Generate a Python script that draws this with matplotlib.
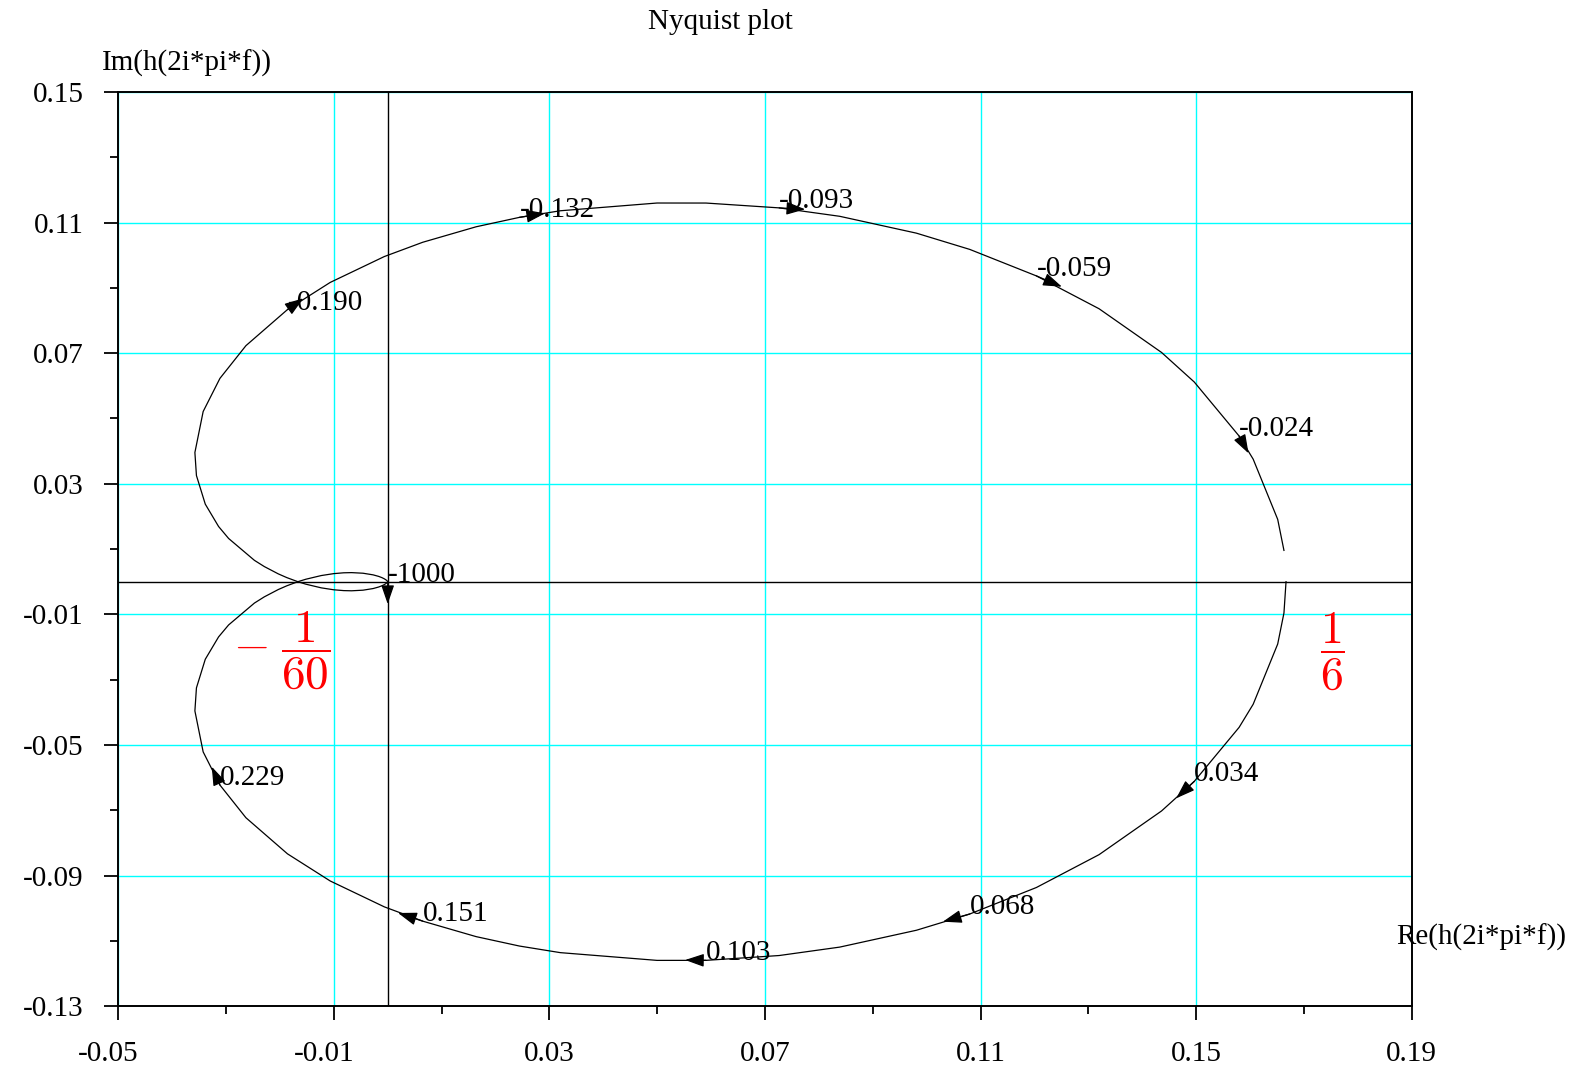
import matplotlib
matplotlib.use("Agg")
import matplotlib.pyplot as plt
from matplotlib.ticker import FixedLocator
from matplotlib.transforms import ScaledTranslation

plt.rcParams["font.family"] = ["Liberation Serif", "DejaVu Serif"]
plt.rcParams["mathtext.fontset"] = "cm"
plt.rcParams["axes.unicode_minus"] = False

# Nyquist curve, negative frequencies (f = -1000 ... -0.005), upper half
neg_re = [0.0, -0.000046, -0.000152, -0.000327, -0.000646, -0.001087, -0.001678,
          -0.002706, -0.004583, -0.006704, -0.008177, -0.010020, -0.012327,
          -0.015194, -0.016657, -0.018707, -0.020303, -0.022890, -0.024727,
          -0.029516, -0.031378, -0.033845, -0.035485, -0.035771, -0.034237,
          -0.031124, -0.026305, -0.018598, -0.010676, -0.000633, 0.006499,
          0.016401, 0.024431, 0.032024, 0.049974, 0.059051, 0.072630, 0.083863,
          0.098095, 0.107991, 0.120357, 0.131984, 0.143571, 0.149640, 0.157960,
          0.160570, 0.165120, 0.166280]
neg_im = [0.0, -0.000139, -0.000332, -0.000568, -0.000899, -0.001255, -0.001627,
          -0.002097, -0.002598, -0.002783, -0.002726, -0.002471, -0.001883,
          -0.000754, -0.000006, 0.001248, 0.002400, 0.004635, 0.006541,
          0.013241, 0.016908, 0.023755, 0.032517, 0.039573, 0.052120,
          0.062274, 0.072281, 0.083335, 0.091644, 0.099573, 0.103953,
          0.108692, 0.111574, 0.113598, 0.115970, 0.115962, 0.114482, 0.111902,
          0.106740, 0.101763, 0.093646, 0.083585, 0.070207, 0.061155, 0.044610,
          0.037532, 0.019089, 0.009587]

# positive frequencies (f = 0 ... 1000), lower half
pos_re = [0.166667, 0.166280, 0.165120, 0.160570, 0.157960, 0.149640, 0.143571,
          0.131984, 0.120357, 0.107991, 0.098095, 0.083863, 0.072630, 0.059051,
          0.049974, 0.032024, 0.024431, 0.016401, 0.006499, -0.000633,
          -0.010676, -0.018598, -0.026305, -0.031124, -0.034237, -0.035771,
          -0.035485, -0.033845, -0.031378, -0.029516, -0.024727, -0.022890,
          -0.020303, -0.018707, -0.016657, -0.015194, -0.012327, -0.010020,
          -0.008177, -0.006704, -0.004583, -0.002706, -0.001678, -0.001087,
          -0.000646, -0.000327, -0.000152, -0.000046, 0.0]
pos_im = [0.0, -0.009587, -0.019089, -0.037532, -0.044610, -0.061155, -0.070207,
          -0.083585, -0.093646, -0.101763, -0.106740, -0.111902, -0.114482, -0.115962,
          -0.115970, -0.113598, -0.111574, -0.108692, -0.103953, -0.099573,
          -0.091644, -0.083335, -0.072281, -0.062274, -0.052120, -0.039573,
          -0.032517, -0.023755, -0.016908, -0.013241, -0.006541, -0.004635,
          -0.002400, -0.001248, 0.000006, 0.000754, 0.001883, 0.002471,
          0.002726, 0.002783, 0.002598, 0.002097, 0.001627, 0.001255,
          0.000899, 0.000568, 0.000332, 0.000139, 0.0]

# frequency labels and arrow heads
freq_labels = ["-1000", "-0.190", "-0.132", "-0.093", "-0.059", "-0.024",
               "0.034", "0.068", "0.103", "0.151", "0.229"]
label_re = [0.0, -0.018598, 0.024431, 0.072630, 0.120357, 0.157960,
            0.149640, 0.107991, 0.059051, 0.006499, -0.031124]
label_im = [0.0, 0.083335, 0.111574, 0.114482, 0.093646, 0.044610,
            -0.061155, -0.101763, -0.115962, -0.103953, -0.062274]
arrow_re = [0.0, -0.01565, 0.02920, 0.07745, 0.12508, 0.15971,
            0.14629, 0.10300, 0.05518, 0.00192, -0.03265]
arrow_im = [-0.00683, 0.08679, 0.11282, 0.11405, 0.09034, 0.03932,
            -0.06633, -0.10412, -0.11585, -0.10145, -0.05665]

x_ticks = [-0.05, -0.01, 0.03, 0.07, 0.11, 0.15, 0.19]
x_minor = [-0.03, 0.01, 0.05, 0.09, 0.13, 0.17]
y_ticks = [0.15, 0.11, 0.07, 0.03, -0.01, -0.05, -0.09, -0.13]
y_minor = [0.13, 0.09, 0.05, 0.01, -0.03, -0.07, -0.11]

FS = 21

W, H = 1584, 1070
fig = plt.figure(figsize=(W / 100, H / 100), dpi=100)
ax = fig.add_axes([118.2 / W, 1 - 1006.2 / H, (1411.8 - 118.2) / W, (1006.2 - 91.9) / H])

ax.set_xlim(-0.05, 0.19)
ax.set_ylim(-0.13, 0.15)
ax.set_xticks(x_ticks)
ax.set_xticklabels([f"{v:.2f}" for v in x_ticks])
ax.set_yticks(y_ticks)
ax.set_yticklabels([f"{v:.2f}" for v in y_ticks])
ax.xaxis.set_minor_locator(FixedLocator(x_minor))
ax.yaxis.set_minor_locator(FixedLocator(y_minor))
ax.tick_params(which="major", direction="out", length=10, width=1.3,
               pad=15, labelsize=FS)
ax.tick_params(which="minor", direction="out", length=6, width=1.3)
for s in ax.spines.values():
    s.set_linewidth(1.4)

# negative x labels sit a little left of their tick in the original
shift = ScaledTranslation(-10 / 100, 0, fig.dpi_scale_trans)
for v, lab in zip(x_ticks, ax.get_xticklabels()):
    if v < 0:
        lab.set_transform(lab.get_transform() + shift)

ax.grid(True, which="major", color="#00ffff", lw=1.0)
ax.set_axisbelow(True)

ax.axhline(0, color="k", lw=1.0, zorder=1.5)
ax.axvline(0, color="k", lw=1.0, zorder=1.5)

ax.plot(neg_re, neg_im, color="k", lw=0.9)
ax.plot(pos_re, pos_im, color="k", lw=0.9)

for t, x, y, ax_, ay_ in zip(freq_labels, label_re, label_im, arrow_re, arrow_im):
    ax.text(x, y, t, fontsize=FS, ha="left", va="baseline")
    ax.annotate("", xy=(ax_, ay_), xytext=(x, y),
                arrowprops=dict(arrowstyle="-|>,head_length=0.58,head_width=0.2",
                                mutation_scale=20, color="k", lw=0.9,
                                shrinkA=0, shrinkB=0))

ax.text(-0.0196, -0.0212, r"$-\;\dfrac{1}{60}$", color="red", fontsize=34,
        ha="center", va="center")
ax.text(0.1752, -0.0212, r"$\dfrac{1}{6}$", color="red", fontsize=33,
        ha="center", va="center")

fig.text(720 / W, 1 - 22 / H, "Nyquist plot", fontsize=FS, ha="center", va="center")
fig.text(102 / W, 1 - 63 / H, "Im(h(2i*pi*f))", fontsize=FS, ha="left", va="center")
fig.text(1396 / W, 1 - 937 / H, "Re(h(2i*pi*f))", fontsize=FS, ha="left", va="center")

fig.savefig("out.png", dpi=100)
